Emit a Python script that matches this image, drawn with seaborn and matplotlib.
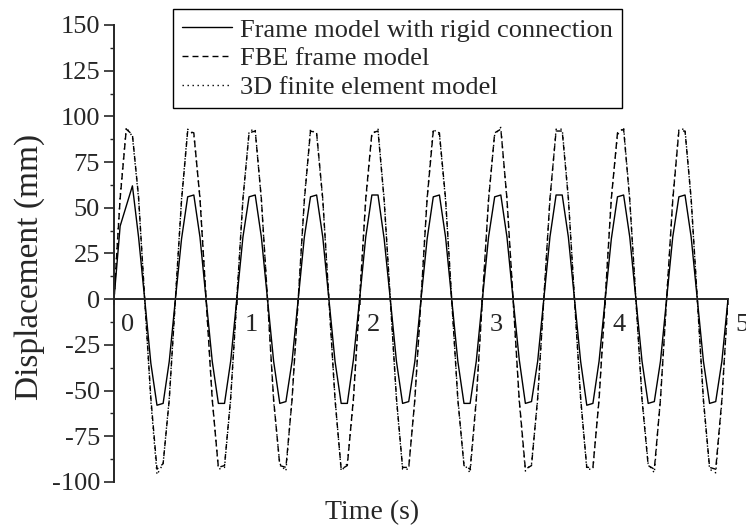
import matplotlib
matplotlib.use("Agg")
import matplotlib.pyplot as plt
import matplotlib.transforms as mtransforms
from matplotlib.ticker import MultipleLocator
import seaborn as sns

# time axis (s)
time = [0.00, 0.05, 0.10, 0.15, 0.20, 0.25, 0.30, 0.35, 0.40, 0.45,
        0.50, 0.55, 0.60, 0.65, 0.70, 0.75, 0.80, 0.85, 0.90, 0.95,
        1.00, 1.05, 1.10, 1.15, 1.20, 1.25, 1.30, 1.35, 1.40, 1.45,
        1.50, 1.55, 1.60, 1.65, 1.70, 1.75, 1.80, 1.85, 1.90, 1.95,
        2.00, 2.05, 2.10, 2.15, 2.20, 2.25, 2.30, 2.35, 2.40, 2.45,
        2.50, 2.55, 2.60, 2.65, 2.70, 2.75, 2.80, 2.85, 2.90, 2.95,
        3.00, 3.05, 3.10, 3.15, 3.20, 3.25, 3.30, 3.35, 3.40, 3.45,
        3.50, 3.55, 3.60, 3.65, 3.70, 3.75, 3.80, 3.85, 3.90, 3.95,
        4.00, 4.05, 4.10, 4.15, 4.20, 4.25, 4.30, 4.35, 4.40, 4.45,
        4.50, 4.55, 4.60, 4.65, 4.70, 4.75, 4.80, 4.85, 4.90, 4.95,
        5.00]

# displacement (mm), frame model with rigid connection
rigid = [0, 40, 51, 62, 34, 0, -35, -58, -57, -34,
         0, 33, 56, 57, 34, 0, -34, -57, -57, -34,
         0, 34, 56, 57, 34, 0, -34, -57, -56, -34,
         0, 34, 56, 57, 34, 0, -34, -57, -57, -33,
         0, 34, 57, 57, 33, 0, -34, -57, -56, -34,
         0, 33, 56, 57, 34, 0, -34, -57, -57, -34,
         0, 34, 56, 57, 34, 0, -33, -57, -56, -34,
         0, 34, 57, 57, 34, 0, -34, -58, -57, -34,
         0, 33, 56, 57, 34, 0, -34, -57, -56, -34,
         0, 34, 56, 57, 34, 0, -34, -57, -56, -34,
         0]

# FBE frame model
fbe = [0, 55, 93, 90, 56, 0, -54, -93, -90, -55,
       0, 54, 92, 91, 55, 0, -55, -92, -91, -54,
       0, 55, 91, 92, 55, 0, -55, -91, -92, -55,
       0, 54, 92, 91, 55, 0, -55, -93, -91, -54,
       0, 55, 91, 92, 54, 0, -54, -92, -92, -55,
       0, 55, 92, 91, 55, 0, -55, -91, -93, -55,
       0, 54, 91, 93, 55, 0, -55, -93, -91, -54,
       0, 55, 92, 92, 55, 0, -54, -92, -92, -55,
       0, 55, 91, 93, 54, 0, -55, -91, -93, -55,
       0, 54, 92, 92, 55, 0, -55, -92, -93, -55,
       0]

# 3D finite element model
fem3d = [0, 56, 94, 89, 55, 0, -56, -96, -90, -54,
         0, 55, 93, 90, 56, 0, -54, -93, -92, -55,
         0, 54, 92, 93, 54, 0, -56, -90, -94, -54,
         0, 55, 93, 90, 54, 0, -54, -94, -90, -55,
         0, 54, 90, 93, 55, 0, -55, -93, -93, -54,
         0, 56, 93, 90, 54, 0, -54, -90, -95, -56,
         0, 55, 90, 94, 54, 0, -56, -94, -90, -55,
         0, 54, 93, 93, 56, 0, -55, -93, -93, -54,
         0, 56, 90, 94, 55, 0, -54, -90, -95, -54,
         0, 55, 93, 93, 54, 0, -56, -93, -95, -56,
         0]

labels = ["Frame model with rigid connection", "FBE frame model", "3D finite element model"]

sns.set_style("ticks")
plt.rcParams["font.family"] = ["Liberation Serif", "DejaVu Serif"]
plt.rcParams["font.size"] = 19
plt.rcParams["axes.unicode_minus"] = False

fig = plt.figure(figsize=(7.46, 5.25), dpi=100)
ax = fig.add_axes([114 / 746, 1 - 482 / 525, 614 / 746, 457 / 525])

sns.lineplot(x=time, y=rigid, ax=ax, color="black", lw=1.0, label=labels[0])
sns.lineplot(x=time, y=fbe, ax=ax, color="black", lw=1.0, label=labels[1])
sns.lineplot(x=time, y=fem3d, ax=ax, color="black", lw=1.0, label=labels[2])
ax.lines[1].set_dashes((4.3, 2.9))
ax.lines[2].set_dashes((1.0, 2.6))

ax.set_xlim(0, 5)
ax.set_ylim(-100, 150)
ax.yaxis.set_major_locator(MultipleLocator(25))
ax.yaxis.set_minor_locator(MultipleLocator(12.5))
ax.xaxis.set_major_locator(MultipleLocator(1))

for s in ["top", "right"]:
    ax.spines[s].set_visible(False)
ax.spines["bottom"].set_position(("data", 0))
ax.spines["bottom"].set_linewidth(1.4)
ax.spines["left"].set_linewidth(1.4)

ax.tick_params(axis="y", which="major", direction="out", length=7, width=1.2, pad=3, labelsize=19)
ax.tick_params(axis="y", which="minor", direction="out", length=3, width=1.0)
ax.tick_params(axis="x", which="major", direction="out", length=4, width=1.2, pad=7, labelsize=19)

# tick labels of the time axis sit a little right of their ticks
shift = mtransforms.ScaledTranslation(0.14, 0, fig.dpi_scale_trans)
for lab in ax.get_xticklabels():
    lab.set_transform(lab.get_transform() + shift)

ax.set_xlabel("Time (s)", fontsize=20)
ax.xaxis.set_label_coords(0.42, -0.04)
ax.set_ylabel("Displacement (mm)", fontsize=24)
ax.yaxis.set_label_coords(-0.112, 0.47)

leg = ax.legend(loc="upper left", bbox_to_anchor=(173 / 746, 1 - 9 / 525),
                bbox_transform=fig.transFigure, frameon=True, fancybox=False,
                edgecolor="black", framealpha=1, fontsize=19, handlelength=1.9,
                handletextpad=0.3, labelspacing=0.2, borderpad=0.35, borderaxespad=0)
leg.get_frame().set_linewidth(1.0)

fig.savefig("out.png", dpi=100)
